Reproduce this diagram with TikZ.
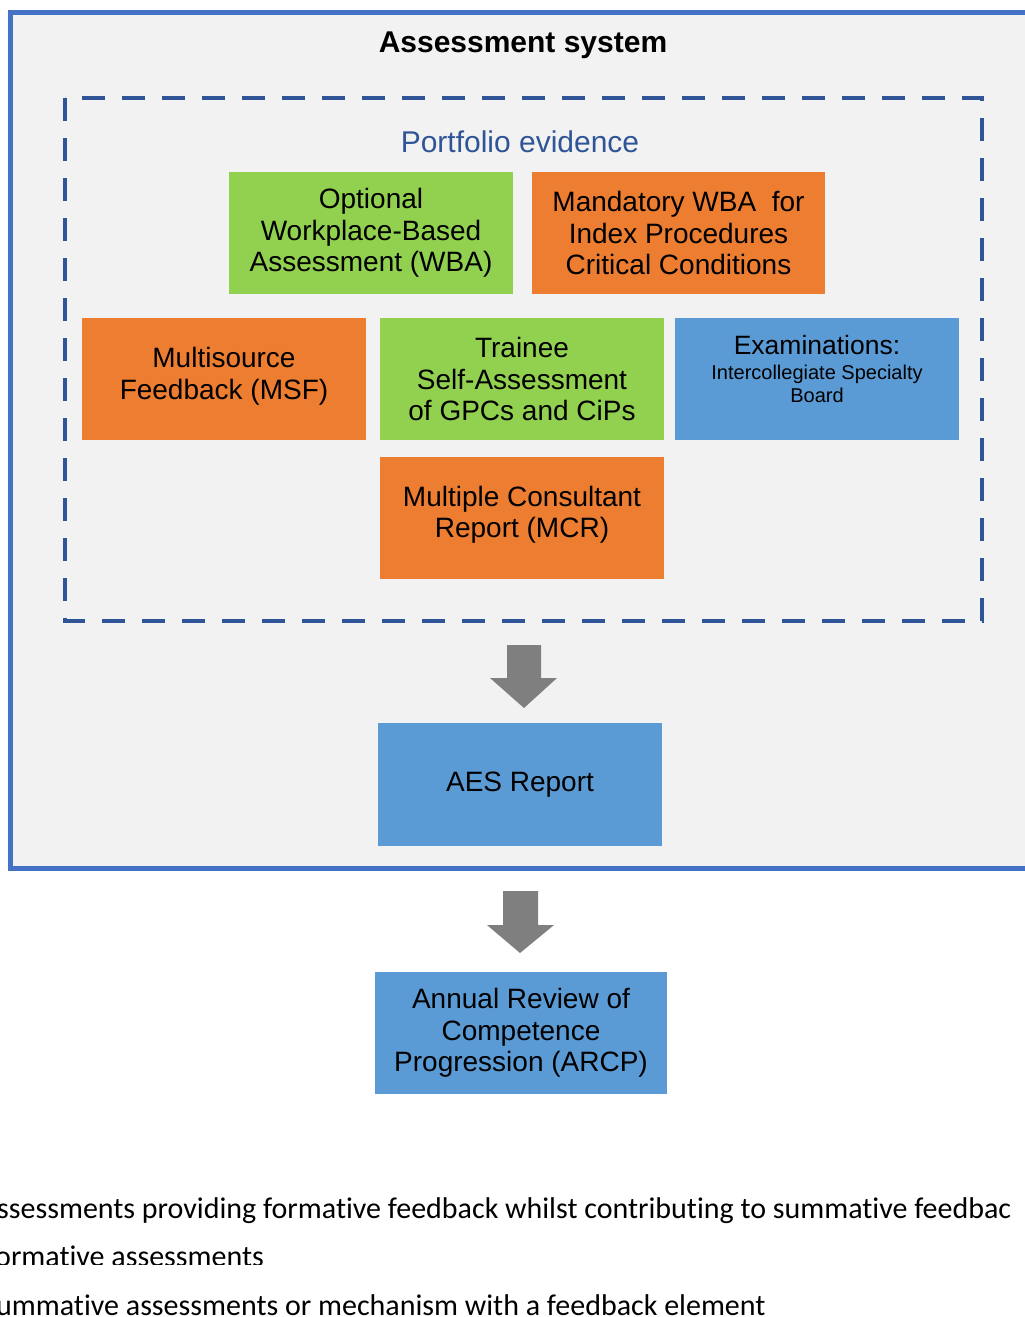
\documentclass[tikz,border=0pt]{standalone}
\usepackage{fontspec}
\setmainfont{Liberation Sans}
\newfontfamily\carl[Ligatures=NoCommon]{Carlito}
\definecolor{frameblue}{HTML}{4472C4}
\definecolor{dashblue}{HTML}{2F5597}
\definecolor{bggray}{HTML}{F2F2F2}
\definecolor{boxorange}{HTML}{ED7D31}
\definecolor{boxgreen}{HTML}{92D050}
\definecolor{boxblue}{HTML}{5B9BD5}
\definecolor{arrowgray}{HTML}{7F7F7F}
\begin{document}
\begin{tikzpicture}[x=1pt,y=-1pt,
  box/.style={rectangle, inner sep=0pt, minimum width=284pt, minimum height=122pt,
    align=center, text=black, font=\fontsize{28}{31.5}\selectfont},
  greenbox/.style={box, fill=boxgreen},
  orangebox/.style={box, fill=boxorange},
  bluebox/.style={box, fill=boxblue},
  boxtext/.style={inner sep=0pt, align=center, text=black, font=\fontsize{28}{31.5}\selectfont},
  blockarrow/.style={fill=arrowgray},
  examline/.style={anchor=base, inner sep=0pt, text=black},
  legend/.style={anchor=base west, inner sep=0pt, font=\carl\fontsize{30}{36}\selectfont, text=black}]
\useasboundingbox (0,0) rectangle (1025,1317);
\clip (0,0) rectangle (1025,1317);
\fill[white] (0,0) rectangle (1025,1317);

% outer frame
\draw[frameblue, line width=5pt, fill=bggray] (10,12) rectangle (1045,868);
\node[font=\bfseries\fontsize{30}{34}\selectfont, text=black] (title) at (523,45) {Assessment system};

% portfolio dashed frame
\draw[dashblue, line width=3.5pt, dash pattern=on 23pt off 17pt] (65,98) rectangle (982,621);
\node[font=\fontsize{30}{34}\selectfont, text=dashblue] (port) at (520,142) {Portfolio evidence};

% boxes
\node[greenbox] (wba) at (371,233) {Optional\\Workplace-Based\\Assessment (WBA)};
\node[orangebox, minimum width=293pt] (mand) at (678.5,233) {Mandatory WBA\ \ for\\Index Procedures\\Critical Conditions};
\node[orangebox] (msf) at (224,379) {};
\node[boxtext] (msftext) at (224,376) {Multisource\\Feedback (MSF)};
\node[greenbox] (trainee) at (522,379) {Trainee\\Self-Assessment\\of GPCs and CiPs};
\node[bluebox] (exam) at (817,379) {};
\node[examline, font=\fontsize{26.5}{30}\selectfont] (ex1) at (817,354) {Examinations:};
\node[examline, font=\fontsize{20}{24}\selectfont] (ex2) at (817,379) {Intercollegiate Specialty};
\node[examline, font=\fontsize{20}{24}\selectfont] (ex3) at (817,402) {Board};
\node[orangebox] (mcr) at (522,518) {};
\node[boxtext] (mcrtext) at (522,515) {Multiple Consultant\\Report (MCR)};

% arrow 1 (portfolio -> AES report)
\fill[blockarrow] (507,645) -- (541,645) -- (541,678) -- (557,678) -- (524,708) -- (490,678) -- (507,678) -- cycle;

\node[bluebox, minimum height=123pt] (aes) at (520,784.5) {AES Report};

% arrow 2 (AES report -> ARCP)
\fill[blockarrow] (503,891) -- (538,891) -- (538,925) -- (554,925) -- (520,953) -- (487,925) -- (503,925) -- cycle;

\node[bluebox, minimum width=292pt] (arcp) at (521,1033) {Annual Review of\\Competence\\Progression (ARCP)};

% legend text
\node[legend] (l1) at (-3,1218) {ssessments providing formative feedback whilst contributing to summative feedbac};
\begin{scope}
  \clip (0,1225) rectangle (1025,1264);
  \node[legend] (l2) at (-5,1266) {ormative assessments};
\end{scope}
\node[legend] (l3) at (-4,1315) {ummative assessments or mechanism with a feedback element};
\end{tikzpicture}
\end{document}
